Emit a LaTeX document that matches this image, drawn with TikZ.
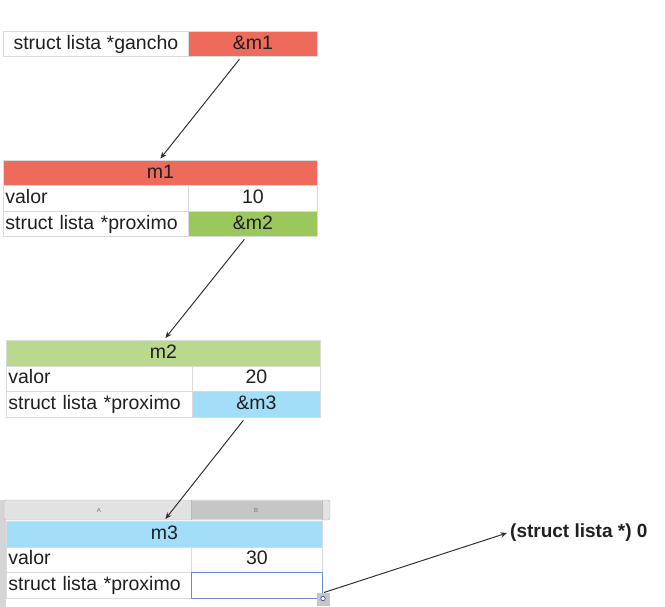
\documentclass[tikz,border=0pt]{standalone}
\usepackage{fontspec}
\setmainfont{Liberation Sans}
\usetikzlibrary{calc,arrows.meta}
\definecolor{cellgray}{RGB}{218,218,218}
\definecolor{cred}{RGB}{238,106,90}
\definecolor{cgreen}{RGB}{155,200,92}
\definecolor{clgreen}{RGB}{186,216,142}
\definecolor{cblue}{RGB}{162,222,248}
\definecolor{selblue}{RGB}{110,140,205}
\definecolor{linegray}{RGB}{50,50,50}
\definecolor{barA}{RGB}{226,226,226}
\definecolor{barB}{RGB}{198,198,198}
\definecolor{barEdge}{RGB}{185,185,185}
\begin{document}
\begin{tikzpicture}[x=1pt,y=-1pt,
  txt/.style={font=\fontsize{19.5}{21}\selectfont, text=black!88},
  cellc/.style={txt, draw=cellgray, line width=0.8pt, inner sep=0pt,
    text height=14pt, text depth=4pt,
    minimum width=#1, minimum height=25.5, anchor=north west},
  celll/.style={txt, draw=cellgray, line width=0.8pt, inner xsep=2pt, inner ysep=0pt,
    text height=14pt, text depth=4pt,
    text width=#1, align=left, minimum height=25.5, anchor=north west},
  link/.style={draw=linegray, line width=1pt, -{Stealth[length=6.5pt,width=5.5pt]}},
  hdrletter/.style={font=\fontsize{6}{7}\selectfont, text=black!55, inner sep=0pt}]
\useasboundingbox (0,0) rectangle (665,607);

% spreadsheet chrome around m3
\fill[barEdge!60] (0,500) rectangle (6,607);
\draw[barEdge, fill=barA, rounded corners=2pt] (4,500) rectangle (330,520);
\fill[barB] (191,500.6) rectangle (322,519.4);
\fill[barA] (322,500.6) rectangle (329.4,519.4);
\draw[barEdge] (191,500) -- (191,520) (322,500) -- (322,520);
\node[hdrletter] (colA) at (99,510) {A};
\node[hdrletter] (colB) at (256,510) {B};

% gancho
\node[cellc=185] (glab) at (3,31) {struct lista *gancho};
\node[cellc=129, fill=cred] (gptr) at (188,31) {\&m1};

% m1
\node[cellc=314, fill=cred] (m1head) at (3,160) {m1};
\node[celll=181pt] (m1vl) at (3,185.5) {valor};
\node[cellc=129] (m1vv) at (188,185.5) {10};
\node[celll=181pt] (m1pl) at (3,211) {struct lista *proximo};
\node[cellc=129, fill=cgreen] (m1ptr) at (188,211) {\&m2};

% m2
\node[cellc=314, fill=clgreen] (m2head) at (6,340) {m2};
\node[celll=182pt] (m2vl) at (6,365.5) {valor};
\node[cellc=128] (m2vv) at (192,365.5) {20};
\node[celll=182pt] (m2pl) at (6,391) {struct lista *proximo};
\node[cellc=128, fill=cblue] (m2ptr) at (192,391) {\&m3};

% m3
\node[cellc=316, fill=cblue] (m3head) at (6,521) {m3};
\node[celll=181pt] (m3vl) at (6,546.5) {valor};
\node[cellc=131] (m3vv) at (191,546.5) {30};
\node[celll=181pt] (m3pl) at (6,572) {struct lista *proximo};
\node[cellc=131, draw=selblue, line width=1pt] (m3ptr) at (191,572) {};
% fill handle
\fill[barB] (317,593) rectangle (330,606);
\draw[selblue!70!black, line width=0.8pt, fill=white] (m3ptr.south east) circle (2.2);

% null label
\node[txt, font=\fontsize{19}{21}\selectfont\bfseries, anchor=west, inner sep=0pt] (null) at (510,533) {(struct lista *) 0};

% links
\draw[link] ($(gptr.south)+(-13.5,2)$) -- ($(m1head.north)+(0,-1.5)$);
\draw[link] ($(m1ptr.south)+(-8.5,2)$) -- ($(m2head.north)+(2,-2)$);
\draw[link] ($(m2ptr.south)+(-13,3)$) -- ($(m3head.north)+(1,-2)$);
\draw[link] ($(m3ptr.south east)+(1,-6)$) -- ($(null.west)+(-3,0)$);
\end{tikzpicture}
\end{document}
